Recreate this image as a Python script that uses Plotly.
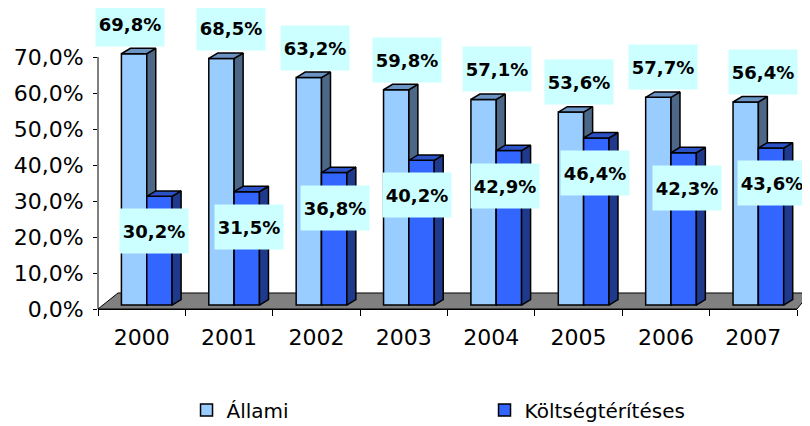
import plotly.graph_objects as go

# ---------------- data ----------------
years = ["2000", "2001", "2002", "2003", "2004", "2005", "2006", "2007"]
allami = [69.8, 68.5, 63.2, 59.8, 57.1, 53.6, 57.7, 56.4]
koltseg = [30.2, 31.5, 36.8, 40.2, 42.9, 46.4, 42.3, 43.6]
series_names = ["Állami", "Költségtérítéses"]
y_tick_vals = [0, 10, 20, 30, 40, 50, 60, 70]
y_tick_text = ["0,0%", "10,0%", "20,0%", "30,0%", "40,0%", "50,0%", "60,0%", "70,0%"]

# ---------------- styling / geometry ----------------
FONT = "DejaVu Sans"
Y_MAX = 80      # headroom so the tallest 3D bars are not clipped
AX_TOP = 70     # visible axis line ends here
BASE = 1.1      # bars sit slightly behind the front floor edge
W = 0.29        # bar width (category units)
DX = 0.103      # 3D depth offset, x
DY = 1.5        # 3D depth offset, y
OFF_A = -0.087
OFF_K = 0.203
lab_shift_a = [-12, 2, -1, 3, 6, 0, -3, 10]
lab_shift_k = [12, 20, 19, 13, 14, 16, 21, 19]

col_a = dict(front="#99CCFF", side="#4D6787", top="#6B93C4")
col_k = dict(front="#3366FF", side="#1F3A8C", top="#2C52C8")

xs = list(range(len(years)))


def fmt(v):
    return f"{v:.1f}".replace(".", ",") + "%"


def side_faces(offset, vals):
    px, py = [], []
    for i, v in zip(xs, vals):
        xr = i + offset + W / 2
        px += [xr, xr + DX, xr + DX, xr, xr, None]
        py += [BASE, BASE + DY, BASE + v + DY, BASE + v, BASE, None]
    return px, py


def top_faces(offset, vals):
    px, py = [], []
    for i, v in zip(xs, vals):
        xl = i + offset - W / 2
        xr = i + offset + W / 2
        t = BASE + v
        px += [xl, xl + DX, xr + DX, xr, xl, None]
        py += [t, t + DY, t + DY, t, t, None]
    return px, py


fig = go.Figure()


def add_series(name, vals, offset, col, xa, ya):
    fig.add_trace(go.Bar(
        name=name, x=[i + offset for i in xs], y=vals, base=BASE, width=W,
        marker=dict(color=col["front"], line=dict(color="black", width=1.5)),
        xaxis=xa, yaxis=ya, hoverinfo="skip"))
    sx, sy = side_faces(offset, vals)
    fig.add_trace(go.Scatter(
        x=sx, y=sy, mode="lines", fill="toself", fillcolor=col["side"],
        line=dict(color="black", width=1.5), showlegend=False,
        xaxis=xa, yaxis=ya, hoverinfo="skip"))
    tx, ty = top_faces(offset, vals)
    fig.add_trace(go.Scatter(
        x=tx, y=ty, mode="lines", fill="toself", fillcolor=col["top"],
        line=dict(color="black", width=1.5), showlegend=False,
        xaxis=xa, yaxis=ya, hoverinfo="skip"))


add_series(series_names[0], allami, OFF_A, col_a, "x", "y")
add_series(series_names[1], koltseg, OFF_K, col_k, "x2", "y2")

annotations = []
for i, v in enumerate(allami):
    annotations.append(dict(
        x=i, y=BASE + v, xref="x", yref="y", text=f"<b>{fmt(v)}</b>",
        showarrow=False, xshift=lab_shift_a[i], yshift=30,
        bgcolor="#CCFFFF", width=64, height=40, borderpad=2,
        font=dict(family=FONT, size=18, color="black")))
for i, v in enumerate(koltseg):
    annotations.append(dict(
        x=i, y=BASE + v, xref="x", yref="y", text=f"<b>{fmt(v)}</b>",
        showarrow=False, xshift=lab_shift_k[i], yshift=-35,
        bgcolor="#CCFFFF", width=64, height=40, borderpad=2,
        font=dict(family=FONT, size=18, color="black")))

# page body has an 8px margin, so the figure is 8px smaller than the window
fig.update_layout(
    width=802, height=418,
    margin=dict(l=90, r=13, t=13, b=117, autoexpand=False),
    paper_bgcolor="white", plot_bgcolor="rgba(0,0,0,0)",
    font=dict(family=FONT, color="black"),
    barmode="overlay",
    showlegend=True,
    legend=dict(orientation="h", xref="container", yref="container",
                x=0.2226, xanchor="left", y=0.0383, yanchor="middle",
                font=dict(family=FONT, size=20, color="black"),
                entrywidth=253, traceorder="normal", bgcolor="rgba(0,0,0,0)"),
    annotations=annotations,
    shapes=[
        dict(type="path", xref="paper", yref="paper", layer="below",
             path="M 0 0 L 0.0286 0.0556 L 1.0186 0.0556 L 1 0 Z",
             fillcolor="#808080", line=dict(color="black", width=1)),
        dict(type="line", xref="paper", yref="paper", layer="above",
             x0=0, x1=0, y0=0, y1=AX_TOP / Y_MAX,
             line=dict(color="black", width=1)),
    ],
    xaxis=dict(range=[-0.5, 7.5], tickmode="array", tickvals=xs, ticktext=years,
               ticks="", showline=True, linecolor="black", linewidth=1,
               showgrid=False, zeroline=False, fixedrange=True, automargin=False,
               tickfont=dict(family=FONT, size=22, color="black"),
               ticklabelstandoff=9,
               minor=dict(ticks="outside", tick0=0.5, dtick=1, ticklen=6,
                          tickcolor="black", showgrid=False)),
    yaxis=dict(range=[0, Y_MAX], tickmode="array", tickvals=y_tick_vals,
               ticktext=y_tick_text, ticks="outside", ticklen=4, tickcolor="black",
               showline=False, showgrid=False, automargin=False,
               zeroline=False, fixedrange=True, ticklabelstandoff=5,
               tickfont=dict(family=FONT, size=22, color="black")),
    xaxis2=dict(overlaying="x", anchor="y2", range=[-0.5, 7.5], visible=False),
    yaxis2=dict(overlaying="y", anchor="x2", range=[0, Y_MAX], visible=False),
)

fig.write_html("out.html")
